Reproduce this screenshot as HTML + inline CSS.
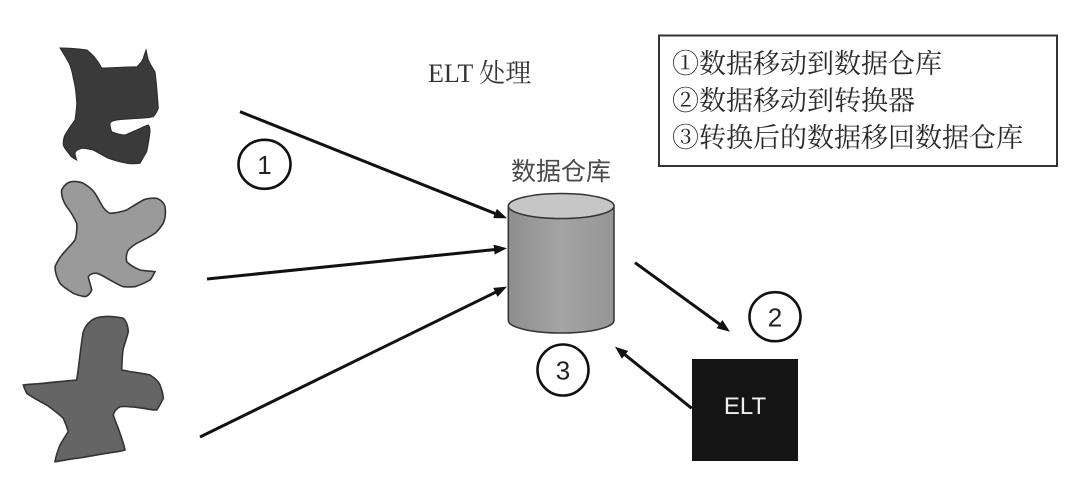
<!DOCTYPE html>
<html>
<head>
<meta charset="utf-8">
<style>
  html,body{margin:0;padding:0;background:#fff;}
  body{width:1080px;height:489px;overflow:hidden;}
  svg{display:block;}
</style>
</head>
<body>
<svg width="1080" height="489" viewBox="0 0 1080 489" xmlns="http://www.w3.org/2000/svg">
  <defs>
    <marker id="ah" viewBox="0 0 13 10" refX="5" refY="5" markerWidth="13" markerHeight="10" markerUnits="userSpaceOnUse" orient="auto">
      <path d="M0,0 L13,5 L0,10 z" fill="#111"/>
    </marker>
    <linearGradient id="cyl" x1="0" x2="1" y1="0" y2="0">
      <stop offset="0" stop-color="#8e8e8e"/>
      <stop offset="0.5" stop-color="#a4a4a4"/>
      <stop offset="1" stop-color="#959595"/>
    </linearGradient>
  </defs>

  <!-- Shape 1 (dark) -->
  <path d="M60,48 C70,48 80,49 87,50 C92,54 96,58 101.7,68 C110,68 125,67 137,66.7 C141,63 143,60 143.3,58 L146,50 L148.3,60 C151,66 154,70 155,72 C156,78 157,90 158.3,108 C157,112 155,115 153.3,116.7 C148,118 145,118 140,118.3 C130,119 122,119 116.7,120 C112,121 110,122 110,123.3 C110,128 111,130 111.7,131.7 C117,134 121,135 125,135 C130,133 134,131 136.7,130 C141,128 145,126 148.3,125 C150,127 150,129 150,131.7 C149,140 148,146 146.7,151.7 C144,156 142,160 140,163.3 C135,164 131,164 126.7,163.3 C120,162 113,160 108.3,158.3 C102,155 97,152 93.3,150 C88,149 84,148 81.7,148.3 C77,150 75,151 75,153.3 C75,156 76,158 76.7,160 C73,158 71,157 70,155 C67,151 64,148 63.3,145 C63,140 64,137 65,135 C69,128 72,124 75,120 C76,113 77,106 76.7,101.7 C76,92 75,84 73.3,78.3 C72,70 70,65 68.3,61.7 C65,56 62,51 60,48 Z" fill="#3a3a3a" stroke="#2a2a2a" stroke-width="1"/>

  <!-- Shape 2 (light gray) -->
  <path d="M61.7,190 C64,185 68,182 71.7,181.7 C76,181 80,182 83.3,183.3 C88,186 92,189 95,193.3 C98,198 100,202 101.7,205 C104,209 107,212 110,213.3 C116,213 121,212 126.7,210 C133,206 138,203 143.3,200 C148,198 152,198 156.7,198.3 C161,200 164,203 165,206.7 C166,213 165,219 163.3,223.3 C160,228 158,231 155,233.3 C150,237 145,239 140,241.7 C135,244 131,247 128.3,250 C126,254 126,258 126.7,261.7 C131,266 135,268 140,270 C145,271 150,271 155,271.7 C153,275 152,278 150,280 C145,283 140,285 135,286.7 C130,287 127,287 123.3,286.7 C118,285 114,282 110,280 C105,277 100,274 96.7,273.3 C93,273 90,274 88.3,276.7 C89,281 91,286 91.7,290 C90,294 88,296 85,296.7 C81,296 77,295 73.3,293.3 C68,290 63,287 60,283.3 C57,278 55,272 55,266.7 C57,262 60,257 63.3,253.3 C67,249 72,244 75,240 C77,234 77,228 76.7,223.3 C74,217 70,211 66.7,206.7 C63,201 61,195 61.7,190 Z" fill="#9a9a9a" stroke="#333" stroke-width="1.6"/>

  <!-- Shape 3 (mid gray) -->
  <path d="M90,321.7 C94,318 98,317 103.3,316.7 C110,316 117,317 123.3,318.3 C127,322 128,327 128.3,331.7 C127,337 125,343 123.3,348.3 C122,356 122,363 121.7,370 C131,372 141,373 150,375 C155,378 158,381 160,385 C162,390 163,394 163.3,398.3 C161,403 159,407 156.7,410 C152,410 148,409 143.3,408.3 C135,407 127,406 120,406.7 C116,409 114,412 113.3,415 C115,421 118,427 120,433.3 C122,439 124,445 125,450 C119,452 113,452 106.7,453.3 C96,455 86,457 76.7,458.3 C69,459 61,461 55,461.7 C56,455 58,450 60,445 C63,440 66,435 68.3,431.7 C67,427 65,422 63.3,418.3 C58,413 52,409 46.7,405 C39,401 32,397 26.7,393.3 C25,390 24,387 23.3,385 C30,384 37,384 43.3,383.3 C54,382 66,381 76.7,380 C78,372 79,363 80,355 C81,347 82,339 83.3,331.7 C85,327 87,324 90,321.7 Z" fill="#656565" stroke="#333" stroke-width="1.6"/>

  <!-- Arrows into warehouse -->
  <line x1="240" y1="111.7" x2="499.6" y2="215.3" stroke="#111" stroke-width="3" marker-end="url(#ah)"/>
  <line x1="207" y1="279" x2="499" y2="249.1" stroke="#111" stroke-width="3" marker-end="url(#ah)"/>
  <line x1="200" y1="437" x2="499.8" y2="290.2" stroke="#111" stroke-width="3" marker-end="url(#ah)"/>

  <!-- Arrow 2 and 3 -->
  <line x1="635" y1="262.7" x2="723.5" y2="327" stroke="#111" stroke-width="3" marker-end="url(#ah)"/>
  <line x1="691.7" y1="408.3" x2="621.2" y2="351.7" stroke="#111" stroke-width="3" marker-end="url(#ah)"/>

  <!-- Cylinder -->
  <path d="M508.3,206 L508.3,320.5 A52.85,12.5 0 0 0 614,320.5 L614,206 Z" fill="url(#cyl)" stroke="#333" stroke-width="1.5"/>
  <ellipse cx="561.2" cy="206" rx="52.85" ry="12.5" fill="#c6c6c6" stroke="#333" stroke-width="1.5"/>

  <!-- Numbered circles -->
  <ellipse cx="264.5" cy="164.3" rx="26" ry="24.5" fill="none" stroke="#111" stroke-width="2.6"/>
  <text x="264.5" y="174" font-family="Liberation Sans, sans-serif" font-size="26" text-anchor="middle" fill="#222">1</text>

  <ellipse cx="775" cy="316.7" rx="25.5" ry="24.5" fill="none" stroke="#111" stroke-width="2.6"/>
  <text x="775" y="326.5" font-family="Liberation Sans, sans-serif" font-size="26" text-anchor="middle" fill="#222">2</text>

  <ellipse cx="563" cy="370" rx="25.5" ry="25.5" fill="none" stroke="#111" stroke-width="2.6"/>
  <text x="563" y="379.5" font-family="Liberation Sans, sans-serif" font-size="26" text-anchor="middle" fill="#222">3</text>

  <!-- ELT box -->
  <rect x="692" y="359" width="106" height="102" fill="#141414"/>
  <text x="745" y="414" font-family="Liberation Sans, sans-serif" font-size="24" text-anchor="middle" fill="#eee">ELT</text>

  <!-- Titles -->
  <text x="428" y="82" font-family="Liberation Serif, 'Noto Serif CJK SC', serif" font-size="26" fill="#333">ELT 处理</text>
  <text x="561" y="180" font-family="Liberation Sans, 'Noto Sans CJK SC', sans-serif" font-size="25" text-anchor="middle" fill="#4a4a4a">数据仓库</text>

  <!-- Legend -->
  <rect x="659" y="35.5" width="398" height="130.5" fill="#fff" stroke="#333" stroke-width="2"/>
  <text font-family="Liberation Serif, 'Noto Serif CJK SC', serif" font-size="27" fill="#2a2a2a">
    <tspan x="672" y="73">①数据移动到数据仓库</tspan>
    <tspan x="672" y="110">②数据移动到转换器</tspan>
    <tspan x="672" y="147">③转换后的数据移回数据仓库</tspan>
  </text>
</svg>
</body>
</html>
